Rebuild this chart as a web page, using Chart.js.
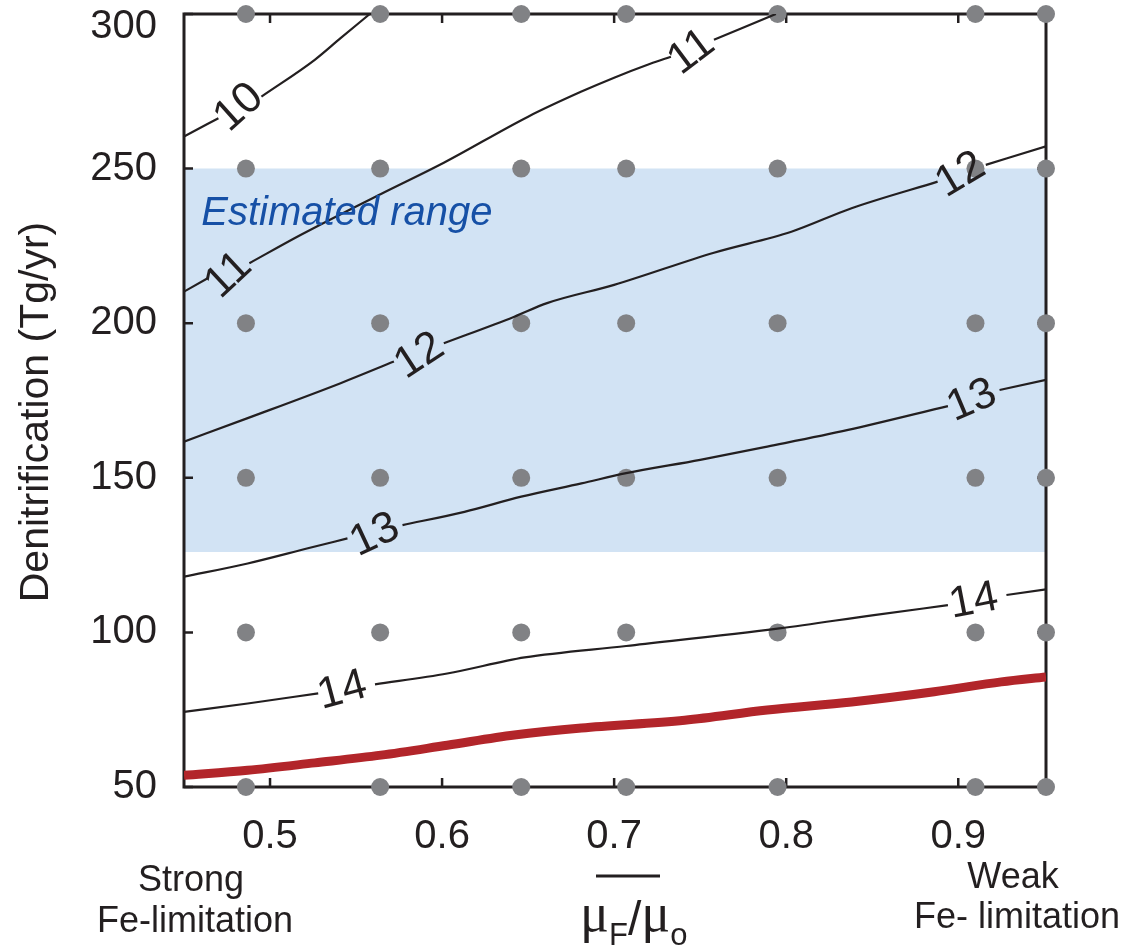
<!DOCTYPE html>
<html>
<head>
<meta charset="utf-8">
<script src="https://cdn.jsdelivr.net/npm/chart.js@4.4.0/dist/chart.umd.min.js"></script>
<style>
  html, body { margin: 0; padding: 0; background: #fff; }
  #wrap { width: 1125px; height: 947px; }
</style>
</head>
<body>
<div id="wrap"><canvas id="contourChart" width="1125" height="947"></canvas></div>
<script>
/* model runs (grey dots) */
const runX = [0.486, 0.564, 0.646, 0.707, 0.795, 0.91, 0.951];
const runY = [50, 100, 150, 200, 250, 300];

const xMin = 0.45, xMax = 0.951;
const xTicks = [0.5, 0.6, 0.7, 0.8, 0.9];
const yTicks = [50, 100, 150, 200, 250, 300];

/* estimated denitrification range (shaded band) */
const rangeLow = 126;
const rangeHigh = 250;

/* contours, null y = gap where the label sits */
const c10x = [0.45, 0.47, 0.482, 0.495, 0.526, 0.541, 0.558];
const c10y = [260.4, 266.3, null, 273.3, 285.2, 292.2, 300];

const c11x = [0.45, 0.464, 0.476, 0.488, 0.518, 0.5645, 0.601, 0.65, 0.681, 0.70, 0.721, 0.733, 0.745, 0.758, 0.794];
const c11y = [210.2, 214.6, null, 219.4, 228.6, 241.8, 251.9, 266.8, 274.9, 279.4, 283.9, 286.2, null, 291.7, 300];

const c12x = [0.45, 0.487, 0.541, 0.572, 0.587, 0.601, 0.642, 0.661, 0.70, 0.758, 0.803, 0.838, 0.888, 0.9015, 0.916, 0.951];
const c12y = [161.7, 169.3, 180.6, 187.6, null, 193.5, 202.1, 206.5, 212.4, 222.8, 229.6, 237.2, 245.8, null, 251.2, 257.2];

const c13x = [0.45, 0.487, 0.522, 0.545, 0.561, 0.577, 0.613, 0.646, 0.681, 0.707, 0.75, 0.789, 0.836, 0.894, 0.908, 0.924, 0.951];
const c13y = [118.0, 122.3, 127.2, 130.4, null, 134.7, 139.0, 143.9, 148.2, 151.5, 155.8, 160.1, 165.5, 173.2, null, 178.4, 181.7];

const c14x = [0.45, 0.487, 0.528, 0.542, 0.561, 0.603, 0.648, 0.707, 0.796, 0.851, 0.894, 0.909, 0.928, 0.951];
const c14y = [74.3, 77.0, 80.3, null, 83.2, 86.7, 91.9, 95.6, 101.3, 105.6, 108.8, null, 112.1, 113.9];

/* red curve */
const redX = [0.45, 0.487, 0.526, 0.5645, 0.603, 0.642, 0.681, 0.741, 0.789, 0.838, 0.886, 0.925, 0.951];
const redY = [53.8, 55.4, 57.8, 60.3, 63.5, 66.8, 69.1, 71.6, 74.9, 77.5, 80.8, 84.0, 85.6];

/* contour labels */
const labelText = ["10", "11", "11", "12", "12", "13", "13", "14", "14"];
const labelX = [0.482, 0.476, 0.745, 0.587, 0.9015, 0.561, 0.908, 0.542, 0.909];
const labelY = [269.7, 215.5, 287.6, 189.4, 247.9, 131.4, 174.9, 81.1, 110.0];
const labelAngle = [42, 43, 37, 33, 31, 25, 23, 15, 11];

const INK = "#231f20";
const DOT = "#818285";
const BAND = "#d2e3f4";
const BLUE = "#1650a6";
const RED = "#b2252a";
const SANS = "'Liberation Sans', Arial, sans-serif";

Chart.defaults.font.family = SANS;
Chart.defaults.color = INK;

function pts(xs, ys) {
  return xs.map((x, i) => ({ x, y: ys[i] }));
}

function contour(xs, ys) {
  return {
    type: "line",
    data: pts(xs, ys),
    showLine: true,
    borderColor: INK,
    borderWidth: 2.2,
    pointRadius: 0,
    cubicInterpolationMode: "monotone",
    spanGaps: false,
    order: 1
  };
}

const dots = runY.flatMap(y => runX.map(x => ({ x, y })));

/* frame with inward ticks, drawn right after the band */
const decorations = {
  id: "decorations",
  afterDatasetDraw(chart, args) {
    if (args.index !== 0) return;
    const { ctx, chartArea: a, scales: { x, y } } = chart;
    ctx.save();
    ctx.strokeStyle = INK;
    ctx.lineWidth = 3;
    ctx.strokeRect(a.left, a.top, a.right - a.left, a.bottom - a.top);
    ctx.lineWidth = 2.5;
    ctx.beginPath();
    xTicks.forEach(v => {
      const px = x.getPixelForValue(v);
      ctx.moveTo(px, a.bottom); ctx.lineTo(px, a.bottom - 9);
      ctx.moveTo(px, a.top); ctx.lineTo(px, a.top + 9);
    });
    yTicks.forEach(v => {
      const py = y.getPixelForValue(v);
      ctx.moveTo(a.left, py); ctx.lineTo(a.left + 9, py);
      ctx.moveTo(a.right, py); ctx.lineTo(a.right - 9, py);
    });
    ctx.stroke();
    ctx.restore();
  },
  afterDatasetsDraw(chart) {
    const { ctx, scales: { x, y } } = chart;
    ctx.save();
    // contour labels
    ctx.fillStyle = INK;
    ctx.font = `44px ${SANS}`;
    ctx.textAlign = "center";
    ctx.textBaseline = "middle";
    labelText.forEach((t, i) => {
      ctx.save();
      ctx.translate(x.getPixelForValue(labelX[i]), y.getPixelForValue(labelY[i]));
      ctx.rotate(-labelAngle[i] * Math.PI / 180);
      ctx.fillText(t, 0, 0);
      ctx.restore();
    });
    // band caption
    ctx.fillStyle = BLUE;
    ctx.font = `italic 40px ${SANS}`;
    ctx.textAlign = "left";
    ctx.textBaseline = "alphabetic";
    ctx.fillText("Estimated range", x.getPixelForValue(0.46), y.getPixelForValue(231.8));
    ctx.restore();
  },
  afterDraw(chart) {
    const { ctx } = chart;
    ctx.save();
    ctx.fillStyle = INK;
    ctx.textBaseline = "alphabetic";

    // y title
    ctx.save();
    ctx.translate(48, 412);
    ctx.rotate(-Math.PI / 2);
    ctx.font = `41px ${SANS}`;
    ctx.textAlign = "center";
    ctx.fillText("Denitrification (Tg/yr)", 0, 0);
    ctx.restore();

    // end notes under the x axis
    ctx.font = `36px ${SANS}`;
    ctx.textAlign = "center";
    ctx.fillText("Strong", 191, 891);
    ctx.fillText("Fe-limitation", 195, 932);
    ctx.fillText("Weak", 1013, 888);
    ctx.fillText("Fe- limitation", 1017, 928);

    // x title: overbar + mu_F / mu_o
    ctx.strokeStyle = INK;
    ctx.lineWidth = 3;
    ctx.beginPath();
    ctx.moveTo(596, 876);
    ctx.lineTo(660, 876);
    ctx.stroke();

    const parts = [
      { t: "μ", font: "54px 'Liberation Serif', serif", dy: 0 },
      { t: "F", font: `31px ${SANS}`, dy: 14 },
      { t: "/", font: `48px ${SANS}`, dy: 4 },
      { t: "μ", font: "54px 'Liberation Serif', serif", dy: 0 },
      { t: "o", font: `31px ${SANS}`, dy: 14 }
    ];
    ctx.textAlign = "left";
    let cx = 580;
    parts.forEach(p => {
      ctx.font = p.font;
      ctx.fillText(p.t, cx, 931 + p.dy);
      cx += ctx.measureText(p.t).width;
    });
    ctx.restore();
  }
};

new Chart(document.getElementById("contourChart"), {
  type: "scatter",
  data: {
    datasets: [
      {
        type: "line",
        data: [{ x: xMin, y: rangeHigh }, { x: xMax, y: rangeHigh }],
        showLine: true,
        borderColor: "rgba(0,0,0,0)",
        borderWidth: 0,
        pointRadius: 0,
        backgroundColor: BAND,
        fill: { value: rangeLow },
        order: 10
      },
      {
        data: dots,
        pointRadius: 9,
        pointHoverRadius: 9,
        backgroundColor: DOT,
        borderWidth: 0,
        clip: false,
        order: 5
      },
      contour(c10x, c10y),
      contour(c11x, c11y),
      contour(c12x, c12y),
      contour(c13x, c13y),
      contour(c14x, c14y),
      {
        type: "line",
        data: pts(redX, redY),
        showLine: true,
        borderColor: RED,
        borderWidth: 9,
        pointRadius: 0,
        cubicInterpolationMode: "monotone",
        order: 0
      }
    ]
  },
  options: {
    responsive: false,
    animation: false,
    layout: { padding: { top: 14, right: 79, left: 0, bottom: 0 } },
    plugins: {
      legend: { display: false },
      tooltip: { enabled: false }
    },
    scales: {
      x: {
        type: "linear",
        min: xMin,
        max: xMax,
        grid: { display: false, drawTicks: false },
        border: { display: false },
        afterBuildTicks: s => { s.ticks = xTicks.map(v => ({ value: v })); },
        afterFit: s => { s.height = 160; s.paddingLeft = 0; s.paddingRight = 0; },
        ticks: {
          padding: 26,
          font: { size: 40 },
          color: INK,
          maxRotation: 0,
          callback: v => v.toFixed(1)
        }
      },
      y: {
        type: "linear",
        min: 50,
        max: 300,
        grid: { display: false, drawTicks: false },
        border: { display: false },
        afterBuildTicks: s => { s.ticks = yTicks.map(v => ({ value: v })); },
        afterFit: s => { s.width = 184; s.paddingTop = 0; s.paddingBottom = 0; },
        ticks: {
          padding: 27,
          color: INK,
          // the top label sits a little lower so it stays inside the page
          font: c => ({ size: 40, lineHeight: c.tick && c.tick.value === 300 ? 0.65 : 1.2 }),
          callback: v => (v === 300 ? ["", "300"] : String(v))
        }
      }
    }
  },
  plugins: [decorations]
});
</script>
</body>
</html>
